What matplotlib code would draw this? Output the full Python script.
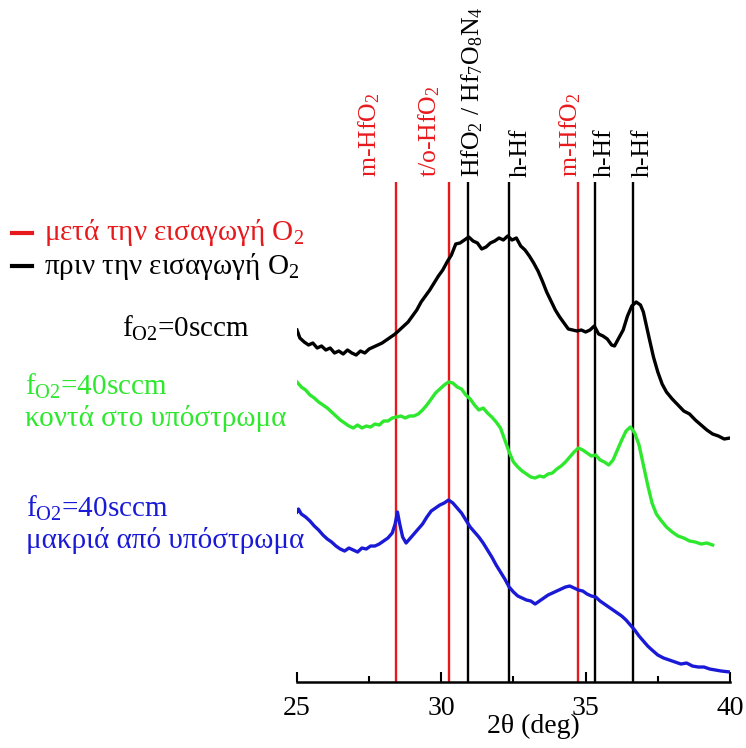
import matplotlib
matplotlib.use("Agg")
import matplotlib.pyplot as plt
from matplotlib.lines import Line2D

plt.rcParams['font.family'] = ['Liberation Serif', 'DejaVu Serif']
plt.rcParams['mathtext.fontset'] = 'custom'
plt.rcParams['mathtext.rm'] = 'Liberation Serif'
plt.rcParams['mathtext.it'] = 'Liberation Serif:italic'
plt.rcParams['mathtext.bf'] = 'Liberation Serif:bold'

# ---------------- data ----------------
black_x = [25.0, 25.1, 25.25, 25.4, 25.55, 25.7, 25.85, 26.0, 26.15, 26.3,
           26.45, 26.6, 26.75, 26.9, 27.05, 27.2, 27.35, 27.5, 27.65, 27.8,
           27.95, 28.1, 28.25, 28.4, 28.55, 28.7, 28.85, 29.0, 29.15, 29.3,
           29.45, 29.6, 29.75, 29.9, 30.05, 30.2, 30.35, 30.5, 30.65, 30.8,
           30.95, 31.1, 31.25, 31.4, 31.55, 31.7, 31.85, 32.0, 32.15, 32.3,
           32.45, 32.6, 32.75, 32.9, 33.05, 33.2, 33.35, 33.5, 33.65, 33.8,
           33.95, 34.1, 34.25, 34.4, 34.55, 34.7, 34.85, 35.0, 35.15, 35.3,
           35.45, 35.6, 35.75, 35.9, 36.0, 36.15, 36.3, 36.45, 36.6, 36.75,
           36.9, 37.0, 37.1, 37.2, 37.35, 37.5, 37.65, 37.8, 38.0, 38.2,
           38.4, 38.6, 38.8, 39.0, 39.2, 39.4, 39.6, 39.8, 40.0]
black_y = [352, 344, 340, 337, 339, 334, 336, 332, 334, 329,
           331, 328, 332, 329, 327, 331, 329, 333, 335, 337,
           339, 342, 345, 348, 352, 356, 360, 366, 372, 380,
           386, 392, 399, 406, 412, 420, 427, 438, 439, 442,
           445, 441, 439, 433, 435, 439, 441, 444, 442, 446,
           442, 444, 436, 432, 426, 419, 411, 401, 390, 381,
           372, 365, 359, 353, 352, 351, 352, 350, 352, 356,
           348, 346, 343, 337, 336, 344, 352, 366, 376, 380,
           377, 370, 357, 344, 325, 310, 298, 290, 283, 277,
           271, 268, 262, 257, 252, 248, 246, 243, 244]

green_x = [25.0, 25.15, 25.3, 25.45, 25.6, 25.75, 25.9, 26.05, 26.2, 26.35,
           26.5, 26.65, 26.8, 26.95, 27.1, 27.25, 27.4, 27.55, 27.7, 27.85,
           28.0, 28.15, 28.3, 28.45, 28.6, 28.75, 28.9, 29.05, 29.2, 29.35,
           29.5, 29.65, 29.8, 29.95, 30.1, 30.25, 30.4, 30.55, 30.7, 30.85,
           31.0, 31.15, 31.3, 31.45, 31.6, 31.75, 31.9, 32.05, 32.2, 32.35,
           32.5, 32.65, 32.8, 32.95, 33.1, 33.25, 33.4, 33.55, 33.7, 33.85,
           34.0, 34.15, 34.3, 34.45, 34.6, 34.75, 34.9, 35.05, 35.2, 35.35,
           35.5, 35.65, 35.8, 35.95, 36.1, 36.25, 36.4, 36.55, 36.7, 36.85,
           37.0, 37.15, 37.3, 37.45, 37.6, 37.8, 38.0, 38.2, 38.4, 38.6,
           38.8, 39.0, 39.2, 39.4]
green_y = [300, 295, 292, 287, 284, 280, 277, 274, 270, 266,
           262, 259, 256, 254, 257, 254, 256, 255, 258, 257,
           261, 261, 264, 265, 266, 264, 266, 266, 268, 272,
           277, 283, 289, 293, 297, 300, 299, 295, 293, 287,
           283, 277, 272, 274, 269, 265, 260, 254, 242, 230,
           220, 215, 211, 208, 205, 204, 206, 205, 208, 209,
           213, 216, 220, 225, 230, 234, 232, 229, 226, 227,
           222, 220, 217, 222, 232, 242, 251, 255, 249, 237,
           217, 197, 179, 168, 162, 155, 150, 146, 144, 141,
           140, 138, 139, 137]

blue_x = [25.0, 25.05, 25.15, 25.3, 25.45, 25.6, 25.75, 25.9, 26.05, 26.2,
          26.35, 26.5, 26.65, 26.8, 26.95, 27.1, 27.25, 27.4, 27.55, 27.7,
          27.85, 28.0, 28.15, 28.3, 28.4, 28.48, 28.56, 28.66, 28.78, 28.9,
          29.05, 29.2, 29.35, 29.5, 29.65, 29.8, 29.95, 30.1, 30.25, 30.4,
          30.55, 30.7, 30.85, 31.0, 31.15, 31.3, 31.45, 31.6, 31.75, 31.9,
          32.05, 32.2, 32.35, 32.5, 32.65, 32.8, 32.95, 33.1, 33.25, 33.4,
          33.55, 33.7, 33.85, 34.0, 34.15, 34.3, 34.45, 34.6, 34.75, 34.9,
          35.05, 35.2, 35.35, 35.5, 35.65, 35.8, 35.95, 36.1, 36.25, 36.4,
          36.55, 36.7, 36.85, 37.0, 37.15, 37.3, 37.5, 37.7, 37.9, 38.1,
          38.3, 38.5, 38.7, 38.9, 39.1, 39.3, 39.5, 39.7, 40.0]
blue_y = [170, 173, 168, 165, 161, 156, 152, 147, 143, 140,
          136, 133, 131, 134, 132, 130, 134, 133, 136, 136,
          138, 141, 144, 149, 158, 170, 158, 145, 139, 143,
          148, 153, 158, 165, 171, 174, 177, 179, 182, 179,
          174, 169, 162, 155, 150, 145, 139, 132, 125, 117,
          110, 103, 95, 90, 86, 84, 82, 81, 78, 81,
          84, 87, 89, 91, 93, 95, 96, 94, 92, 91,
          88, 86, 85, 81, 78, 75, 72, 69, 66, 62,
          57, 52, 46, 41, 36, 32, 27, 24, 22, 20,
          18, 19, 16, 15, 15, 13, 12, 11, 10]

ref_pos = [28.44, 30.26, 30.93, 32.35, 34.74, 35.33, 36.64]
ref_colors = ['red', 'red', 'black', 'black', 'red', 'black', 'black']
ref_labels = ['m-HfO$_2$', 't/o-HfO$_2$', 'HfO$_2$ / Hf$_7$O$_8$N$_4$', 'h-Hf',
              'm-HfO$_2$', 'h-Hf', 'h-Hf']
ref_label_x = [27.49, 29.57, 31.06, 32.76, 34.46, 35.67, 36.98]

xticks_major = [25, 30, 35, 40]
xticks_minor = [27.5, 32.5, 37.5]

RED = '#e8191c'
GREEN = '#2ee82e'
BLUE = '#1a1ad6'

# ---------------- figure ----------------
fig = plt.figure(figsize=(7.46, 7.48), dpi=100)
ax = fig.add_axes([0.3981, 0.0882, 0.5804, 0.6685])

for xp, c in zip(ref_pos, ref_colors):
    ax.axvline(xp, color=RED if c == 'red' else 'black', lw=1.7, zorder=1)

ax.plot(black_x, black_y, color='black', lw=2.4, zorder=3)
ax.plot(green_x, green_y, color=GREEN, lw=2.4, zorder=3)
ax.plot(blue_x, blue_y, color=BLUE, lw=2.4, zorder=3)

ax.set_xlim(25, 40)
ax.set_ylim(0, 500)
for s in ['top', 'left', 'right']:
    ax.spines[s].set_visible(False)
ax.spines['bottom'].set_linewidth(1.8)
ax.set_yticks([])
ax.set_xticks(xticks_major)
ax.set_xticklabels([str(v) for v in xticks_major])
ax.set_xticks(xticks_minor, minor=True)
ax.tick_params(axis='x', which='major', direction='in', length=7, width=1.5,
               labelsize=20, pad=10)
ax.tick_params(axis='x', which='minor', direction='in', length=4, width=1.5)
ax.set_xlabel('2θ (deg)', fontsize=20)
ax.xaxis.set_label_coords(0.545, -0.063)

for lx, lab, c in zip(ref_label_x, ref_labels, ref_colors):
    ax.text(lx, 505, lab, rotation=90, ha='center', va='bottom',
            fontsize=18.5, color=RED if c == 'red' else 'black', clip_on=False)

# legend-like annotations
def fx(px):
    return px / 746.0

def fy(py):
    return 1 - py / 748.0

fig.add_artist(Line2D([fx(12), fx(32)], [fy(233), fy(233)], color=RED, lw=3))
fig.add_artist(Line2D([fx(12), fx(32)], [fy(266), fy(266)], color='black', lw=3))
FS = 21
fig.text(fx(44), fy(233), 'μετά την εισαγωγή O$_2$', color=RED, fontsize=FS,
         ha='left', va='center')
fig.text(fx(44), fy(266), 'πριν την εισαγωγή O$_2$', color='black', fontsize=FS,
         ha='left', va='center')

fig.text(fx(122), fy(328), r'f$_{\mathrm{O2}}$=0sccm', color='black', fontsize=FS,
         ha='left', va='center')
fig.text(fx(25), fy(386), r'f$_{\mathrm{O2}}$=40sccm', color=GREEN, fontsize=FS,
         ha='left', va='center')
fig.text(fx(25), fy(419), 'κοντά στο υπόστρωμα', color=GREEN, fontsize=FS,
         ha='left', va='center')
fig.text(fx(26), fy(508), r'f$_{\mathrm{O2}}$=40sccm', color=BLUE, fontsize=FS,
         ha='left', va='center')
fig.text(fx(26), fy(541), 'μακριά από υπόστρωμα', color=BLUE, fontsize=FS,
         ha='left', va='center')

fig.savefig('out.png', dpi=100)
